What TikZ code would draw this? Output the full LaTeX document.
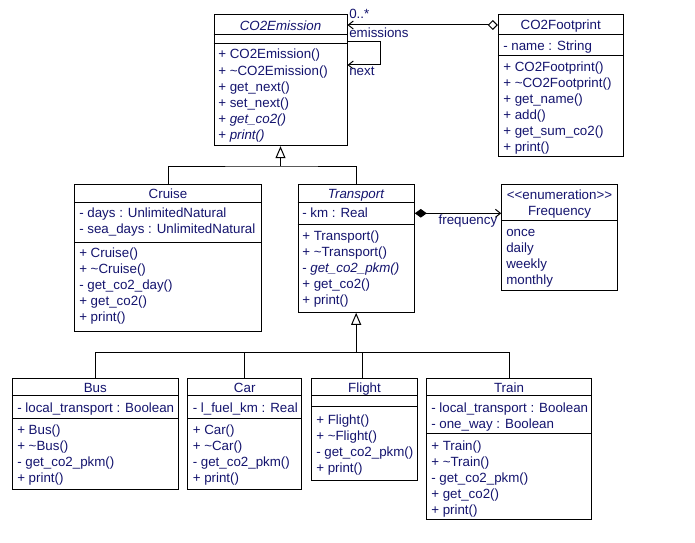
\documentclass[tikz,border=0pt]{standalone}
\usepackage{fontspec}
\setmainfont{Liberation Sans}
\usetikzlibrary{arrows.meta,fit}
\definecolor{umltext}{RGB}{20,20,110}
\tikzset{
  cls/.style={draw=black, line width=0.75pt, inner sep=0pt, fill=white},
  divider/.style={line width=0.75pt},
  umlfont/.style={font=\fontsize{10}{12}\selectfont},
  txt/.style={umlfont, inner sep=0pt, anchor=base west, text=umltext},
  ttl/.style={umlfont, inner sep=0pt, anchor=base, text=umltext},
  conn/.style={line width=0.75pt, draw=black},
  gen/.style={conn, -{Triangle[open, length=9pt, width=7.5pt, fill=white]}},
  navarrow/.style={-{Straight Barb[length=3.75pt, width=6pt]}},
}
\begin{document}
\begin{tikzpicture}[x=0.75pt,y=-0.75pt]
\useasboundingbox[fill=white] (0,0) rectangle (695,542);

% ---------- CO2Emission ----------
\node[cls, fit={(214,14.5) (347,145.7)}] (co2e) {};
\draw[divider] (co2e.west |- 0,35) -- (co2e.east |- 0,35);
\draw[divider] (co2e.west |- 0,44) -- (co2e.east |- 0,44);
\node[ttl, font=\fontsize{10}{12}\selectfont\itshape] (co2et) at (280.5,30.5) {CO2Emission};
\node[txt] (co2em1) at (218,59) {+ CO2Emission()};
\node[txt] (co2em2) at (218,75) {+ \textasciitilde CO2Emission()};
\node[txt] (co2em3) at (218,91) {+ get\_next()};
\node[txt] (co2em4) at (218,107) {+ set\_next()};
\node[txt] (co2em5) at (218,123) {+ \textit{get\_co2()}};
\node[txt] (co2em6) at (218,139) {+ \textit{print()}};

% ---------- CO2Footprint ----------
\node[cls, fit={(498.3,14.7) (623,156.7)}] (fp) {};
\draw[divider] (fp.west |- 0,35) -- (fp.east |- 0,35);
\draw[divider] (fp.west |- 0,55.7) -- (fp.east |- 0,55.7);
\node[ttl] (fpt) at (560.7,30) {CO2Footprint};
\node[txt] (fpa1) at (503,50.5) {- name : String};
\node[txt] (fpm1) at (503,71.5) {+ CO2Footprint()};
\node[txt] (fpm2) at (503,87.5) {+ \textasciitilde CO2Footprint()};
\node[txt] (fpm3) at (503,103.5) {+ get\_name()};
\node[txt] (fpm4) at (503,119.5) {+ add()};
\node[txt] (fpm5) at (503,135.5) {+ get\_sum\_co2()};
\node[txt] (fpm6) at (503,151.5) {+ print()};

% ---------- Cruise ----------
\node[cls, fit={(74.3,184.3) (261.7,331)}] (cruise) {};
\draw[divider] (cruise.west |- 0,202.3) -- (cruise.east |- 0,202.3);
\draw[divider] (cruise.west |- 0,242) -- (cruise.east |- 0,242);
\node[ttl] (cruiset) at (168,198) {Cruise};
\node[txt] (cruisea1) at (79,217.5) {- days : UnlimitedNatural};
\node[txt] (cruisea2) at (79,233.5) {- sea\_days : UnlimitedNatural};
\node[txt] (cruisem1) at (79,257.5) {+ Cruise()};
\node[txt] (cruisem2) at (79,273.5) {+ \textasciitilde Cruise()};
\node[txt] (cruisem3) at (79,289.5) {- get\_co2\_day()};
\node[txt] (cruisem4) at (79,305.5) {+ get\_co2()};
\node[txt] (cruisem5) at (79,321.5) {+ print()};

% ---------- Transport ----------
\node[cls, fit={(298,184.3) (414.3,312.3)}] (transport) {};
\draw[divider] (transport.west |- 0,202.3) -- (transport.east |- 0,202.3);
\draw[divider] (transport.west |- 0,224.3) -- (transport.east |- 0,224.3);
\node[ttl, font=\fontsize{10}{12}\selectfont\itshape] (transportt) at (356,198) {Transport};
\node[txt] (transporta1) at (302,217.3) {- km : Real};
\node[txt] (transportm1) at (302,240.7) {+ Transport()};
\node[txt] (transportm2) at (302,256.7) {+ \textasciitilde Transport()};
\node[txt] (transportm3) at (302,272.7) {- \textit{get\_co2\_pkm()}};
\node[txt] (transportm4) at (302,288.7) {+ get\_co2()};
\node[txt] (transportm5) at (302,304.7) {+ print()};

% ---------- Frequency ----------
\node[cls, fit={(501.7,184.7) (617.3,290.7)}] (freq) {};
\draw[divider] (freq.west |- 0,220.7) -- (freq.east |- 0,220.7);
\node[ttl] (freqs) at (559.5,199) {<\kern0pt<enumeration>\kern0pt>};
\node[ttl] (freqt) at (559.5,215) {Frequency};
\node[txt] (freqv1) at (506,236) {once};
\node[txt] (freqv2) at (506,252) {daily};
\node[txt] (freqv3) at (506,268) {weekly};
\node[txt] (freqv4) at (506,284) {monthly};

% ---------- Bus ----------
\node[cls, fit={(12.3,378.3) (178.3,489)}] (bus) {};
\draw[divider] (bus.west |- 0,395.7) -- (bus.east |- 0,395.7);
\draw[divider] (bus.west |- 0,418.3) -- (bus.east |- 0,418.3);
\node[ttl] (bust) at (95.3,392.5) {Bus};
\node[txt] (busa1) at (17,412.5) {- local\_transport : Boolean};
\node[txt] (busm1) at (17,434) {+ Bus()};
\node[txt] (busm2) at (17,450) {+ \textasciitilde Bus()};
\node[txt] (busm3) at (17,466) {- get\_co2\_pkm()};
\node[txt] (busm4) at (17,482) {+ print()};

% ---------- Car ----------
\node[cls, fit={(187.7,378.3) (301.7,489)}] (car) {};
\draw[divider] (car.west |- 0,395.7) -- (car.east |- 0,395.7);
\draw[divider] (car.west |- 0,418.3) -- (car.east |- 0,418.3);
\node[ttl] (cart) at (244.7,392.5) {Car};
\node[txt] (cara1) at (192.5,412.5) {- l\_fuel\_km : Real};
\node[txt] (carm1) at (192.5,434) {+ Car()};
\node[txt] (carm2) at (192.5,450) {+ \textasciitilde Car()};
\node[txt] (carm3) at (192.5,466) {- get\_co2\_pkm()};
\node[txt] (carm4) at (192.5,482) {+ print()};

% ---------- Flight ----------
\node[cls, fit={(311.7,378.3) (417.3,480)}] (flight) {};
\draw[divider] (flight.west |- 0,395.7) -- (flight.east |- 0,395.7);
\draw[divider] (flight.west |- 0,406.7) -- (flight.east |- 0,406.7);
\node[ttl] (flightt) at (364.5,392.5) {Flight};
\node[txt] (flightm1) at (316,424) {+ Flight()};
\node[txt] (flightm2) at (316,440) {+ \textasciitilde Flight()};
\node[txt] (flightm3) at (316,456) {- get\_co2\_pkm()};
\node[txt] (flightm4) at (316,472) {+ print()};

% ---------- Train ----------
\node[cls, fit={(426.7,378.3) (591.3,519)}] (train) {};
\draw[divider] (train.west |- 0,395.7) -- (train.east |- 0,395.7);
\draw[divider] (train.west |- 0,433.3) -- (train.east |- 0,433.3);
\node[ttl] (traint) at (509,392.5) {Train};
\node[txt] (traina1) at (431,412.7) {- local\_transport : Boolean};
\node[txt] (traina2) at (431,428.7) {- one\_way : Boolean};
\node[txt] (trainm1) at (431,450) {+ Train()};
\node[txt] (trainm2) at (431,466) {+ \textasciitilde Train()};
\node[txt] (trainm3) at (431,482) {- get\_co2\_pkm()};
\node[txt] (trainm4) at (431,498) {+ get\_co2()};
\node[txt] (trainm5) at (431,514) {+ print()};

% ---------- emissions aggregation ----------
\draw[conn, {Diamond[open, length=7.5pt, width=7.5pt, fill=white]}-{Straight Barb[length=3.75pt, width=6pt]}]
  (fp.west |- 0,25) -- (co2e.east |- 0,25);
\node[txt] (mult) at (349,19) {0..*};
\node[txt] (emlbl) at (349,37.3) {emissions};

% ---------- next self association ----------
\coordinate (loopa) at (380,41.7);
\coordinate (loopb) at (380,65);
\draw[conn, navarrow] (co2e.east |- loopa) -- (loopa) -- (loopb) -- (co2e.east |- loopb);
\node[txt] (nextlbl) at (349,75.7) {next};

% ---------- frequency composition ----------
\draw[conn, {Diamond[length=9pt, width=6.5pt]}-{Straight Barb[length=3.75pt, width=6pt]}]
  (transport.east |- 0,213.3) -- (freq.west |- 0,213.3);
\node[umlfont, inner sep=0pt, anchor=base east, text=umltext] (freqlbl) at (497.5,224) {frequency};

% ---------- generalizations to CO2Emission ----------
\coordinate (j1) at (co2e.south |- 0,166);
\draw[conn] (cruise.north) |- (j1) -| (transport.north);
\draw[gen] (j1) -- (co2e.south);

% ---------- generalizations to Transport ----------
\coordinate (j2) at (transport.south |- 0,352.7);
\coordinate (flighttop) at (362,378.3);
\draw[conn] (bus.north) |- (j2) -| (train.north);
\draw[conn] (car.north) -- (car.north |- j2);
\draw[conn] (flighttop) -- (flighttop |- j2);
\draw[gen] (j2) -- (transport.south);
\end{tikzpicture}
\end{document}
